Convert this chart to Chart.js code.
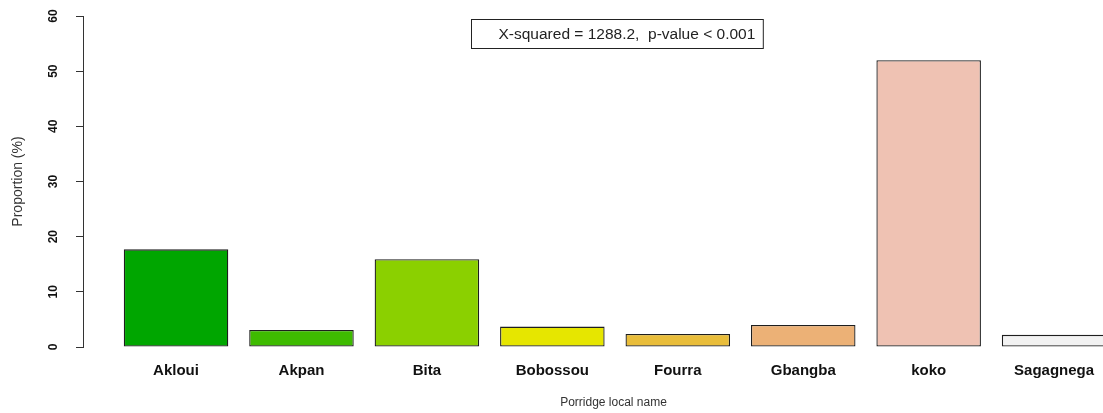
<!DOCTYPE html>
<html><head><meta charset="utf-8">
<script src="https://cdn.jsdelivr.net/npm/chart.js"></script>
<style>
html,body{margin:0;padding:0;overflow:hidden;background:#fff;width:1103px;height:413px}
#wrap{position:relative;width:1160px;height:413px}
</style></head>
<body><div id="wrap"><canvas id="c" width="1160" height="413" style="width:1160px;height:413px"></canvas></div>
<script>
const categories = ['Akloui', 'Akpan', 'Bita', 'Bobossou', 'Fourra', 'Gbangba', 'koko', 'Sagagnega'];
const proportions = [17.7, 3.1, 15.9, 3.7, 2.35, 4.0, 52.0, 2.2];
const barColors = ['#00A600', '#3EBB00', '#8BD000', '#E6E600', '#E9BD3A', '#ECB176', '#EFC2B3', '#F2F2F2'];
const yTicks = [0, 10, 20, 30, 40, 50, 60];
const annotationText = 'X-squared = 1288.2,  p-value < 0.001';
const xTitle = 'Porridge local name';
const yTitle = 'Proportion (%)';

// R barplot layout: bar width 1, gap 0.2
const barWidth = 1, barSpace = 0.2;
const barCenters = categories.map((_, i) => barSpace + barWidth / 2 + i * (barWidth + barSpace));

Chart.defaults.font.family = '"Liberation Sans", Arial, sans-serif';

const annotationBox = {
  id: 'annotationBox',
  afterDraw(chart) {
    const {ctx, scales: {x}} = chart;
    ctx.save();
    ctx.font = '15.5px "Liberation Sans", Arial, sans-serif';
    const tw = ctx.measureText(annotationText).width;
    const padL = 27, padR = 8, h = 29;
    const w = padL + tw + padR;
    const cx = x.getPixelForValue((x.min + x.max) / 2) + 3;
    const left = Math.round(cx - w / 2) + 0.5, top = 19.5;
    ctx.fillStyle = '#fff';
    ctx.fillRect(left, top, w, h);
    ctx.strokeStyle = '#222';
    ctx.lineWidth = 1;
    ctx.strokeRect(left, top, w, h);
    ctx.fillStyle = '#222';
    ctx.textBaseline = 'middle';
    ctx.textAlign = 'left';
    ctx.fillText(annotationText, left + padL, top + h / 2 + 0.5);
    ctx.restore();
  }
};

new Chart(document.getElementById('c'), {
  type: 'bar',
  data: {
    datasets: [{
      data: proportions.map((v, i) => ({x: barCenters[i], y: v})),
      backgroundColor: barColors,
      borderColor: '#1e1e1e',
      borderWidth: 1.3,
      borderSkipped: false,
      barPercentage: barWidth / (barWidth + barSpace),
      categoryPercentage: 1
    }]
  },
  options: {
    responsive: false,
    animation: false,
    devicePixelRatio: 1,
    layout: {padding: {top: 16, right: 16, bottom: 0, left: 0}},
    plugins: {legend: {display: false}, tooltip: {enabled: false}},
    scales: {
      x: {
        type: 'linear', min: -0.19, max: 9.96, offset: false,
        grid: {display: false, drawTicks: false, offset: false},
        border: {display: false},
        afterBuildTicks: s => { s.ticks = barCenters.map(v => ({value: v})); },
        afterFit: s => { s.height = 66; s.paddingLeft = 0; s.paddingRight = 0; },
        ticks: {
          autoSkip: false, maxRotation: 0, minRotation: 0, padding: 15, color: '#111',
          font: {size: 15, weight: 'bold'},
          callback: (v, i) => categories[i]
        },
        title: {display: true, text: xTitle, color: '#333', font: {size: 12}, padding: {top: 0, bottom: 3}}
      },
      y: {
        min: 0, max: 60,
        afterBuildTicks: s => { s.ticks = yTicks.map(v => ({value: v})); },
        afterFit: s => { s.width = 83; s.paddingTop = 0; s.paddingBottom = 0; },
        grid: {drawOnChartArea: false, tickLength: 7, color: '#333'},
        border: {color: '#333'},
        ticks: {
          minRotation: 90, maxRotation: 90, crossAlign: 'center', padding: 16, color: '#111',
          font: {size: 12, weight: 'bold'}
        },
        title: {display: true, text: yTitle, color: '#333', font: {size: 14}, padding: {top: 10, bottom: 0}}
      }
    }
  },
  plugins: [annotationBox]
});
</script>
</body></html>
